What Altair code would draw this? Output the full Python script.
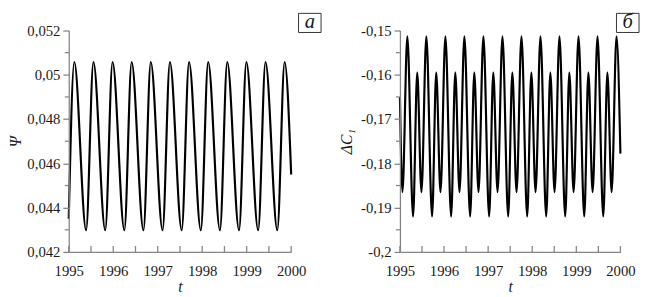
import altair as alt
import pandas as pd

# ---- Panel а : Ψ(t) -- key points (peaks / troughs)
psi_t = [1995.000, 1995.125, 1995.390, 1995.555, 1995.820, 1995.985, 1996.250,
         1996.414, 1996.679, 1996.844, 1997.109, 1997.274, 1997.539, 1997.704,
         1997.969, 1998.134, 1998.399, 1998.563, 1998.828, 1998.993, 1999.258,
         1999.423, 1999.688, 1999.853, 2000.000]
psi_v = [0.0435, 0.05058, 0.04298, 0.05058, 0.04298, 0.05058, 0.04298,
         0.05058, 0.04298, 0.05058, 0.04298, 0.05058, 0.04298, 0.05058,
         0.04298, 0.05058, 0.04298, 0.05058, 0.04298, 0.05058, 0.04298,
         0.05058, 0.04298, 0.05058, 0.0455]

# ---- Panel б : ΔC1(t) -- key points
dc_t = [1995.000,
        1995.057, 1995.168, 1995.298, 1995.392,
        1995.488, 1995.599, 1995.729, 1995.823,
        1995.920, 1996.031, 1996.161, 1996.255,
        1996.351, 1996.462, 1996.592, 1996.686,
        1996.782, 1996.893, 1997.023, 1997.117,
        1997.214, 1997.325, 1997.455, 1997.549,
        1997.645, 1997.756, 1997.886, 1997.980,
        1998.076, 1998.187, 1998.317, 1998.411,
        1998.507, 1998.618, 1998.748, 1998.842,
        1998.939, 1999.050, 1999.180, 1999.274,
        1999.370, 1999.481, 1999.611, 1999.705,
        1999.801, 1999.912, 2000.000]
dc_v = [-0.1650,
        -0.1865, -0.1513, -0.1920, -0.1595,
        -0.1865, -0.1513, -0.1920, -0.1595,
        -0.1865, -0.1513, -0.1920, -0.1595,
        -0.1865, -0.1513, -0.1920, -0.1595,
        -0.1865, -0.1513, -0.1920, -0.1595,
        -0.1865, -0.1513, -0.1920, -0.1595,
        -0.1865, -0.1513, -0.1920, -0.1595,
        -0.1865, -0.1513, -0.1920, -0.1595,
        -0.1865, -0.1513, -0.1920, -0.1595,
        -0.1865, -0.1513, -0.1920, -0.1595,
        -0.1865, -0.1513, -0.1920, -0.1595,
        -0.1865, -0.1513, -0.1778]

x_label_vals = [1995, 1996, 1997, 1998, 1999, 2000]
x_tick_vals = [1995, 1995.5, 1996, 1996.5, 1997, 1997.5, 1998, 1998.5, 1999, 1999.5, 2000]
psi_major = [0.042, 0.044, 0.046, 0.048, 0.050, 0.052]
psi_minor = [0.043, 0.045, 0.047, 0.049, 0.051]
dc_major = [-0.20, -0.19, -0.18, -0.17, -0.16, -0.15]
dc_minor = [-0.195, -0.185, -0.175, -0.165, -0.155]

FONT = "Liberation Serif"
AX = "#858585"
TXT = "#1a1a1a"


def panel(t, v, ydom, ymajor, yminor, label_expr, ytitle, letter, width, height,
          box_x, title_pad):
    df = pd.DataFrame({"t": t, "v": v})
    xtick_df = pd.DataFrame({"t": x_tick_vals, "v": [ydom[0]] * len(x_tick_vals)})
    ytick_df = pd.DataFrame({"t": [1995] * len(yminor), "v": yminor})
    x_enc = alt.X("t:Q", scale=alt.Scale(domain=[1995, 2000], nice=False, zero=False),
                  axis=alt.Axis(values=x_label_vals, format="d", title="t",
                                tickSize=0, labelPadding=12, labelFont=FONT, labelFontSize=15,
                                labelColor=TXT, domain=True, domainColor=AX, domainWidth=1.3,
                                grid=False, zindex=1,
                                labelOverlap=False, labelAlign="center",
                                titleFont=FONT, titleFontSize=16, titleFontStyle="italic",
                                titleFontWeight="normal", titleColor=TXT, titlePadding=0))
    y_enc = alt.Y("v:Q", scale=alt.Scale(domain=ydom, nice=False, zero=False),
                  axis=alt.Axis(values=ymajor, labelExpr=label_expr, ticks=True, tickSize=6,
                                tickWidth=1.3, tickColor=AX, domain=True, domainColor=AX,
                                domainWidth=1.3, grid=False, zindex=1,
                                labelFont=FONT, labelFontSize=15, labelColor=TXT, labelPadding=3,
                                labelOverlap=False,
                                title=ytitle, titleFont=FONT, titleFontSize=16,
                                titleFontStyle="italic", titleFontWeight="normal",
                                titleColor=TXT, titlePadding=title_pad))
    line = alt.Chart(df).mark_line(interpolate="monotone", color="black",
                                   strokeWidth=2.2).encode(x=x_enc, y=y_enc)
    xticks = alt.Chart(xtick_df).mark_tick(orient="vertical", size=6, thickness=1.3,
                                           color=AX, opacity=1, yOffset=-3).encode(x=x_enc, y=y_enc)
    yticks = alt.Chart(ytick_df).mark_tick(orient="horizontal", size=4, thickness=1.3,
                                           color=AX, opacity=1, xOffset=-2).encode(x=x_enc, y=y_enc)
    lab = pd.DataFrame({"s": [letter]})
    box = alt.Chart(lab).mark_rect(fill="white", stroke="#333333", strokeWidth=1).encode(
        x=alt.value(box_x), x2=alt.value(box_x + 23), y=alt.value(-17.5), y2=alt.value(2))
    txt = alt.Chart(lab).mark_text(font=FONT, fontSize=21, fontStyle="italic",
                                   color=TXT, baseline="middle", align="center").encode(
        x=alt.value(box_x + 11.5), y=alt.value(-8.5), text="s:N")
    return alt.layer(line, xticks, yticks, box, txt).properties(width=width, height=height)


left = panel(psi_t, psi_v, [0.042, 0.052], psi_major, psi_minor,
             "replace(format(datum.value, '.3~f'), '.', ',')",
             "Ψ", "а", 227, 226, 234.5, 3)
right = panel(dc_t, dc_v, [-0.2, -0.15], dc_major, dc_minor,
              "'-' + replace(format(abs(datum.value), '.2~f'), '.', ',')",
              "ΔC₁", "б", 225, 226, 221, 6)

chart = alt.hconcat(left, right, spacing=17).configure_view(stroke=None).properties(
    background="white", padding={"left": 0, "top": 0, "right": 0, "bottom": 0})

chart.save("out.html", embed_options={"renderer": "svg", "actions": False})
